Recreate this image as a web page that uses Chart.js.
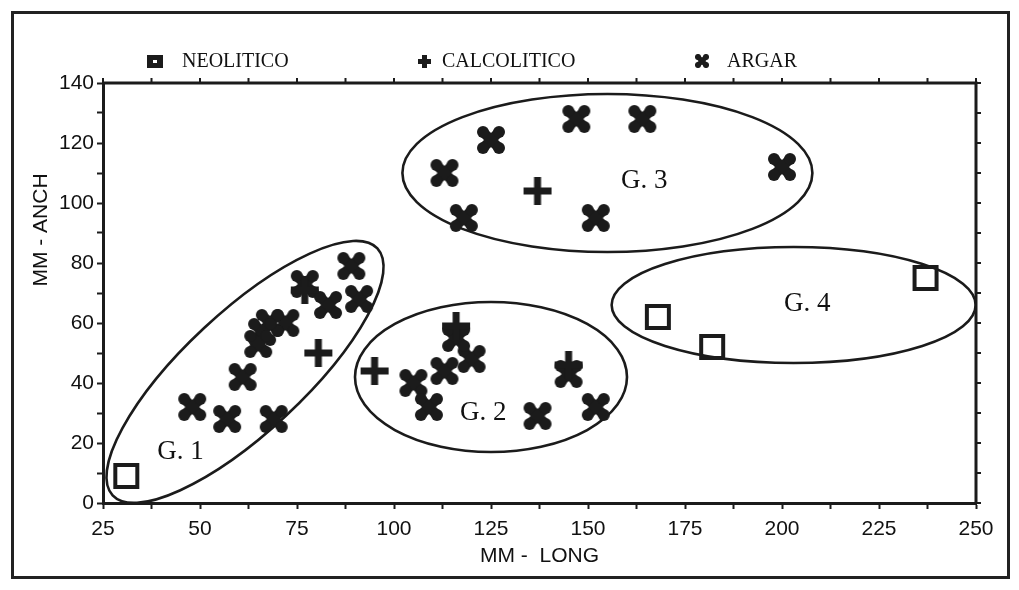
<!DOCTYPE html>
<html>
<head>
<meta charset="utf-8">
<title>MM - LONG / MM - ANCH</title>
<script src="https://cdn.jsdelivr.net/npm/chart.js@4/dist/chart.umd.min.js"></script>
<style>
  html, body { margin: 0; padding: 0; background: #ffffff; }
  #wrap { width: 1019px; height: 590px; position: relative; }
</style>
</head>
<body>
<div id="wrap"><canvas id="chart" width="1019" height="590"></canvas></div>
<script>
// ---- Data (length and width in mm) ----
const seriesNames = ['NEOLITICO', 'CALCOLITICO', 'ARGAR'];

const neoliticoLong = [31, 168, 182, 237];
const neoliticoAnch = [9, 62, 52, 75];

const calcoliticoLong = [77, 80.5, 95, 116, 137, 145];
const calcoliticoAnch = [71, 50, 44, 59, 104, 46];

const argarLong = [89, 77, 83, 91, 72, 68, 66, 65, 61, 48, 57, 69,
                   105, 109, 113, 120, 116, 145, 137, 152,
                   113, 125, 147, 164, 118, 152, 200];
const argarAnch = [79, 73, 66, 68, 60, 60, 57, 53, 42, 32, 28, 28,
                   40, 32, 44, 48, 55, 43, 29, 32,
                   110, 121, 128, 128, 95, 95, 112];

const xTickLabels = [25, 50, 75, 100, 125, 150, 175, 200, 225, 250];
const yTickLabels = [0, 20, 40, 60, 80, 100, 120, 140];

const groupNames = ['G. 1', 'G. 2', 'G. 3', 'G. 4'];

// ---- Layout / styling ----
const INK = '#1b1b1b';
const SANS = '"Liberation Sans", Arial, sans-serif';
const SERIF = '"Liberation Serif", "Times New Roman", serif';

// group outlines: centre in axis units, radii in px, rotation in degrees
const groupShapes = [
  { cx: 61.6, cy: 43.7, rx: 181, ry: 60, rot: -43, lx: 45, ly: 17 },
  { cx: 125,  cy: 42,   rx: 136, ry: 75, rot: 0,   lx: 123, ly: 30 },
  { cx: 155,  cy: 110,  rx: 205, ry: 79, rot: 0,   lx: 164.5, ly: 107.5 },
  { cx: 203,  cy: 66,   rx: 182, ry: 58, rot: 0,   lx: 206.5, ly: 66.5 }
];

const legendLayout = { y: 61, markerX: [155, 424, 702], textX: [182, 442, 727] };

// ---- Marker glyphs ----
function makeCanvas(size) {
  const c = document.createElement('canvas');
  c.width = size; c.height = size;
  return c;
}
function squareGlyph(size, lw) {
  const c = makeCanvas(size), g = c.getContext('2d');
  g.strokeStyle = INK; g.lineWidth = lw;
  const o = lw / 2 + 1;
  g.strokeRect(o, o, size - 2 * o, size - 2 * o);
  return c;
}
function plusGlyph(size, lw) {
  const c = makeCanvas(size), g = c.getContext('2d');
  g.strokeStyle = INK; g.lineWidth = lw; g.lineCap = 'butt';
  const h = size / 2;
  g.beginPath();
  g.moveTo(1, h); g.lineTo(size - 1, h);
  g.moveTo(h, 1); g.lineTo(h, size - 1);
  g.stroke();
  return c;
}
function crossGlyph(size, lw, lobe) {
  const c = makeCanvas(size), g = c.getContext('2d');
  g.strokeStyle = INK; g.fillStyle = INK; g.lineWidth = lw; g.lineCap = 'round';
  const m = lobe + 1;
  g.beginPath();
  g.moveTo(m, m); g.lineTo(size - m, size - m);
  g.moveTo(size - m, m); g.lineTo(m, size - m);
  g.stroke();
  [[m, m], [size - m, m], [m, size - m], [size - m, size - m]].forEach(([px, py]) => {
    g.beginPath(); g.arc(px, py, lobe, 0, Math.PI * 2); g.fill();
  });
  return c;
}
function legendSquare() {
  const c = document.createElement('canvas'); c.width = 16; c.height = 13;
  const g = c.getContext('2d');
  g.fillStyle = INK; g.fillRect(0, 0, 16, 13);
  g.fillStyle = '#ffffff'; g.fillRect(6, 5, 4, 3);
  return c;
}

const markers = [squareGlyph(28, 4), plusGlyph(30, 7), crossGlyph(30, 10, 6)];
const legendMarkers = [legendSquare(), plusGlyph(15, 5), crossGlyph(16, 5, 3)];

function pts(xs, ys) { return xs.map((x, i) => ({ x: x, y: ys[i] })); }

// ---- Drawing helpers for frame, box, outlines, legend and titles ----
const decor = {
  id: 'decor',
  beforeDraw(chart) {
    const g = chart.ctx;
    g.save();
    g.fillStyle = '#ffffff';
    g.fillRect(0, 0, chart.width, chart.height);
    g.strokeStyle = '#222222';
    g.lineWidth = 3;
    g.strokeRect(12.5, 12.5, 996, 565);
    g.restore();
  },
  beforeDatasetsDraw(chart) {
    const g = chart.ctx, xs = chart.scales.x, ys = chart.scales.y;
    g.save();
    g.strokeStyle = INK; g.lineWidth = 2.6;
    groupShapes.forEach(s => {
      g.beginPath();
      g.ellipse(xs.getPixelForValue(s.cx), ys.getPixelForValue(s.cy), s.rx, s.ry,
                s.rot * Math.PI / 180, 0, Math.PI * 2);
      g.stroke();
    });
    g.fillStyle = '#111111';
    g.font = '27px ' + SERIF;
    g.textAlign = 'center'; g.textBaseline = 'middle';
    groupShapes.forEach((s, i) => {
      g.fillText(groupNames[i], xs.getPixelForValue(s.lx), ys.getPixelForValue(s.ly));
    });
    g.restore();
  },
  afterDraw(chart) {
    const g = chart.ctx, a = chart.chartArea, xs = chart.scales.x, ys = chart.scales.y;
    g.save();
    // top and right sides of the plot box with outward ticks
    g.strokeStyle = INK; g.lineWidth = 3;
    g.beginPath();
    g.moveTo(a.left, a.top); g.lineTo(a.right, a.top); g.lineTo(a.right, a.bottom);
    g.stroke();
    g.lineWidth = 2;
    g.beginPath();
    xs.ticks.forEach(t => {
      const px = xs.getPixelForValue(t.value);
      g.moveTo(px, a.top); g.lineTo(px, a.top - 5);
    });
    ys.ticks.forEach(t => {
      const py = ys.getPixelForValue(t.value);
      g.moveTo(a.right, py); g.lineTo(a.right + 5, py);
    });
    g.stroke();

    // axis titles
    g.fillStyle = '#111111';
    g.font = '21px ' + SANS;
    g.textAlign = 'center'; g.textBaseline = 'middle';
    g.fillText('MM -  LONG', (a.left + a.right) / 2, 556);
    g.translate(41, 230);
    g.rotate(-Math.PI / 2);
    g.fillText('MM - ANCH', 0, 0);
    g.restore();

    // legend
    g.save();
    g.fillStyle = '#111111';
    g.font = '20px ' + SERIF;
    g.textAlign = 'left'; g.textBaseline = 'middle';
    chart.data.datasets.forEach((ds, i) => {
      const m = legendMarkers[i];
      g.drawImage(m, Math.round(legendLayout.markerX[i] - m.width / 2),
                     Math.round(legendLayout.y - m.height / 2));
      g.fillText(ds.label, legendLayout.textX[i], legendLayout.y + 1);
    });
    g.restore();
  }
};

function withMinor(majors) {
  const out = [];
  majors.forEach((v, i) => {
    out.push(v);
    if (i < majors.length - 1) out.push((v + majors[i + 1]) / 2);
  });
  return out.map(v => ({ value: v }));
}

const axisCommon = {
  grid: { drawOnChartArea: false, drawTicks: true, tickLength: 6, tickWidth: 2, tickColor: INK },
  border: { display: true, width: 3, color: INK }
};

new Chart(document.getElementById('chart'), {
  type: 'scatter',
  data: {
    datasets: [
      { label: seriesNames[0], data: pts(neoliticoLong, neoliticoAnch), pointStyle: markers[0], pointRadius: 14 },
      { label: seriesNames[1], data: pts(calcoliticoLong, calcoliticoAnch), pointStyle: markers[1], pointRadius: 15 },
      { label: seriesNames[2], data: pts(argarLong, argarAnch), pointStyle: markers[2], pointRadius: 15 }
    ]
  },
  options: {
    responsive: false,
    devicePixelRatio: 1,
    animation: false,
    layout: { padding: { top: 83, right: 43, left: 0, bottom: 0 } },
    plugins: { legend: { display: false }, tooltip: { enabled: false } },
    scales: {
      x: Object.assign({}, axisCommon, {
        type: 'linear', position: 'bottom', min: 25, max: 250,
        afterBuildTicks: s => { s.ticks = withMinor(xTickLabels); },
        afterFit: s => { s.height = 87; },
        ticks: {
          autoSkip: false, maxRotation: 0, padding: 8, color: '#111111',
          font: { family: SANS, size: 21 },
          callback: v => (xTickLabels.includes(v) ? String(v) : '')
        }
      }),
      y: Object.assign({}, axisCommon, {
        type: 'linear', position: 'left', min: 0, max: 140,
        afterBuildTicks: s => { s.ticks = withMinor(yTickLabels); },
        afterFit: s => { s.width = 103; },
        ticks: {
          autoSkip: false, padding: 3, color: '#111111',
          font: { family: SANS, size: 21 },
          callback: v => (yTickLabels.includes(v) ? String(v) : '')
        }
      })
    }
  },
  plugins: [decor]
});
</script>
</body>
</html>
